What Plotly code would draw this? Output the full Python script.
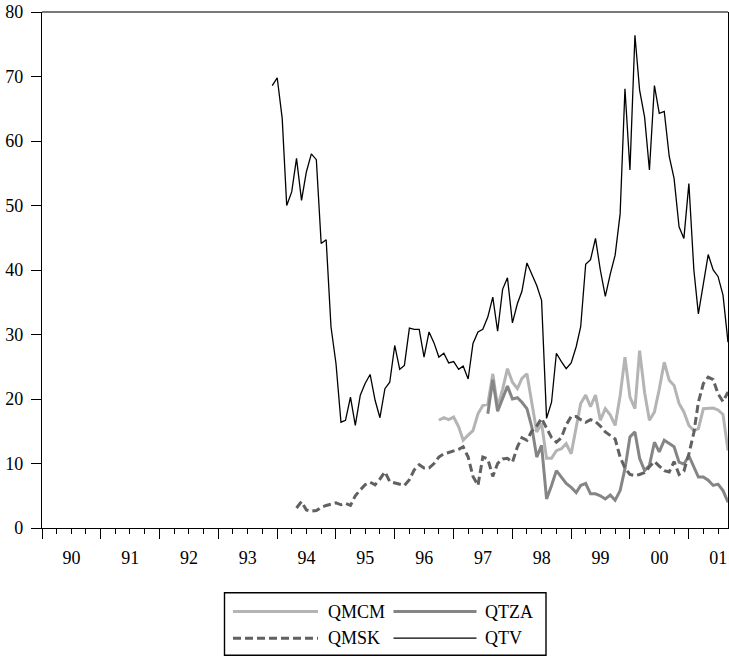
import pandas as pd
import plotly.graph_objects as go

# ---------------- data (monthly) ----------------
qtv_start = "1993-12-01"
qtv = [68.6, 69.8, 63.5, 50.0, 52.1, 57.3, 50.8, 55.2, 58.0, 57.1,
       44.1, 44.7, 31.2, 25.5, 16.4, 16.7, 20.3, 15.9, 20.6, 22.4,
       23.8, 19.8, 17.1, 21.6, 22.6, 28.3, 24.6, 25.2, 31.0, 30.8,
       30.8, 26.5, 30.4, 28.7, 26.5, 27.1, 25.6, 25.8, 24.6, 25.1,
       23.1, 28.6, 30.4, 30.8, 32.7, 35.8, 30.5, 37.0, 38.8, 31.8,
       34.8, 36.7, 41.1, 39.3, 37.6, 35.3, 17.0, 19.5, 27.1, 25.8,
       24.7, 25.6, 28.1, 31.2, 40.9, 41.6, 44.9, 40.0, 35.9, 39.4,
       42.3, 48.7, 68.1, 55.5, 76.4, 67.9, 63.7, 55.5, 68.6, 64.3,
       64.6, 57.6, 54.2, 46.7, 44.9, 53.4, 40.0, 33.2, 38.0, 42.4,
       40.0, 39.0, 36.1, 28.8]

qmsk_start = "1994-05-01"
qmsk = [3.1, 4.1, 2.8, 2.6, 2.7, 3.2, 3.5, 3.7, 3.9, 3.6,
        3.8, 3.5, 5.0, 5.9, 6.7, 7.1, 6.7, 7.6, 8.7, 7.2,
        7.0, 6.9, 6.6, 7.5, 9.0, 9.8, 9.3, 9.3, 10.0, 11.0,
        11.5, 11.7, 12.0, 12.2, 12.6, 11.0, 8.0, 6.6, 11.0, 10.7,
        8.0, 10.0, 10.7, 10.8, 10.2, 12.6, 14.0, 13.6, 15.0, 15.8,
        17.0, 15.4, 14.0, 13.3, 14.0, 16.0, 17.3, 17.3, 16.8, 16.4,
        16.8, 16.5, 15.8, 14.9, 14.3, 13.8, 11.0, 9.3, 8.3, 8.1,
        8.3, 8.6, 9.5, 10.3, 9.6, 8.9, 8.7, 10.3, 8.3, 8.8,
        11.5, 14.8, 19.5, 22.4, 23.4, 23.0, 20.8, 19.6, 21.1]

qmcm_start = "1996-10-01"
qmcm = [16.7, 17.1, 16.8, 17.2, 15.7, 13.6, 14.4, 15.1, 17.7, 19.0,
        19.2, 23.9, 18.8, 21.5, 24.7, 22.6, 21.6, 23.2, 23.9, 19.5,
        14.9, 16.2, 10.8, 10.8, 12.0, 12.3, 13.1, 11.5, 15.9, 19.3,
        20.6, 18.8, 20.6, 16.7, 18.5, 17.5, 15.9, 20.5, 26.5, 20.3,
        18.5, 27.5, 21.0, 16.7, 18.0, 21.5, 25.7, 22.9, 22.1, 19.3,
        18.0, 15.9, 15.1, 15.4, 18.5, 18.6, 18.6, 18.3, 17.6, 12.0]

qtza_start = "1997-08-01"
qtza = [17.7, 23.0, 18.1, 20.2, 22.0, 20.0, 20.2, 19.5, 18.5, 15.7,
        11.0, 12.8, 4.5, 6.6, 8.9, 7.9, 6.9, 6.3, 5.5, 6.6,
        6.9, 5.3, 5.3, 5.0, 4.5, 5.1, 4.3, 5.8, 9.2, 14.1,
        14.9, 10.8, 8.9, 9.7, 13.3, 11.8, 13.6, 13.1, 12.6, 10.2,
        9.9, 11.2, 9.4, 7.9, 7.9, 7.4, 6.6, 6.8, 5.8, 4.0]

series_names = ["QMCM", "QTZA", "QMSK", "QTV"]


def months(start, values):
    return pd.date_range(start, periods=len(values), freq="MS")


FONT = "Liberation Serif, Times New Roman, Times, serif"
styles = {
    "QMCM": dict(color="#b4b4b4", width=3, dash="solid"),
    "QTZA": dict(color="#858585", width=3, dash="solid"),
    "QMSK": dict(color="#616161", width=3, dash="8px,4px"),
    "QTV": dict(color="#000000", width=1.3, dash="solid"),
}
data = {
    "QMCM": (qmcm_start, qmcm),
    "QTZA": (qtza_start, qtza),
    "QMSK": (qmsk_start, qmsk),
    "QTV": (qtv_start, qtv),
}

fig = go.Figure()
for name in series_names:
    start, vals = data[name]
    fig.add_trace(go.Scatter(x=months(start, vals), y=vals, mode="lines",
                             name=name, line=styles[name], showlegend=False))

# ---------------- layout ----------------
FW, FH = 729, 659
L, R, T, B = 42, 728, 12, 528
W, H = R - L, B - T


def px(x):
    return (x - L) / W


def py(y):
    return (B - y) / H


fig.update_layout(
    width=FW, height=FH,
    margin=dict(l=L, r=FW - R, t=T, b=FH - B, autoexpand=False),
    paper_bgcolor="white", plot_bgcolor="white",
    font=dict(family=FONT, size=18, color="black"),
    xaxis=dict(
        type="date", range=["1990-01-01", "2001-09-01"],
        tick0="1990-01-01", dtick="M12", tickformat="%y",
        ticklabelmode="period", ticks="outside", ticklen=10,
        tickwidth=1.2, tickcolor="black",
        minor=dict(dtick="M3", tick0="1990-01-01", ticks="outside",
                   ticklen=5, tickwidth=1, tickcolor="black", showgrid=False),
        showgrid=False, zeroline=False, showline=True, linecolor="black",
        linewidth=1.2, mirror=False, automargin=False,
        tickfont=dict(family=FONT, size=18, color="black"),
        ticklabelstandoff=3,
    ),
    yaxis=dict(
        range=[0, 80], dtick=10, ticks="outside", ticklen=10,
        tickwidth=1.2, tickcolor="black",
        showgrid=False, zeroline=False, showline=True, linecolor="black",
        linewidth=1.2, mirror=True, automargin=False,
        tickfont=dict(family=FONT, size=18, color="black"),
        ticklabelstandoff=4,
    ),
)

shapes = [
    # top frame
    dict(type="line", xref="paper", yref="paper", x0=0, x1=1, y0=1, y1=1,
         line=dict(color="#4d4d4d", width=1.6)),
    # legend box
    dict(type="rect", xref="paper", yref="paper",
         x0=px(224.5), x1=px(546), y0=py(592.7), y1=py(655.3),
         line=dict(color="black", width=1.4), fillcolor="white"),
]
annotations = []
legend_items = [("QMCM", 233, 318, 326, 611.5), ("QTZA", 393.5, 476.5, 483, 611.5),
                ("QMSK", 233, 318, 326, 638.2), ("QTV", 393.5, 476.5, 483, 638.2)]
for name, x0, x1, xt, yy in legend_items:
    st = styles[name]
    shapes.append(dict(type="line", xref="paper", yref="paper",
                       x0=px(x0), x1=px(x1), y0=py(yy), y1=py(yy),
                       line=dict(color=st["color"], width=st["width"], dash=st["dash"])))
    annotations.append(dict(text=name, xref="paper", yref="paper",
                            x=px(xt), y=py(yy), xanchor="left", yanchor="middle",
                            showarrow=False,
                            font=dict(family=FONT, size=18, color="black")))

fig.update_layout(shapes=shapes, annotations=annotations)
# remove the default 8px page margin so the figure sits at the window's top-left
fig.write_html("out.html",
               config={"displayModeBar": False},
               post_script="document.body.style.margin='0px';"
                           "document.body.style.overflow='hidden';")
